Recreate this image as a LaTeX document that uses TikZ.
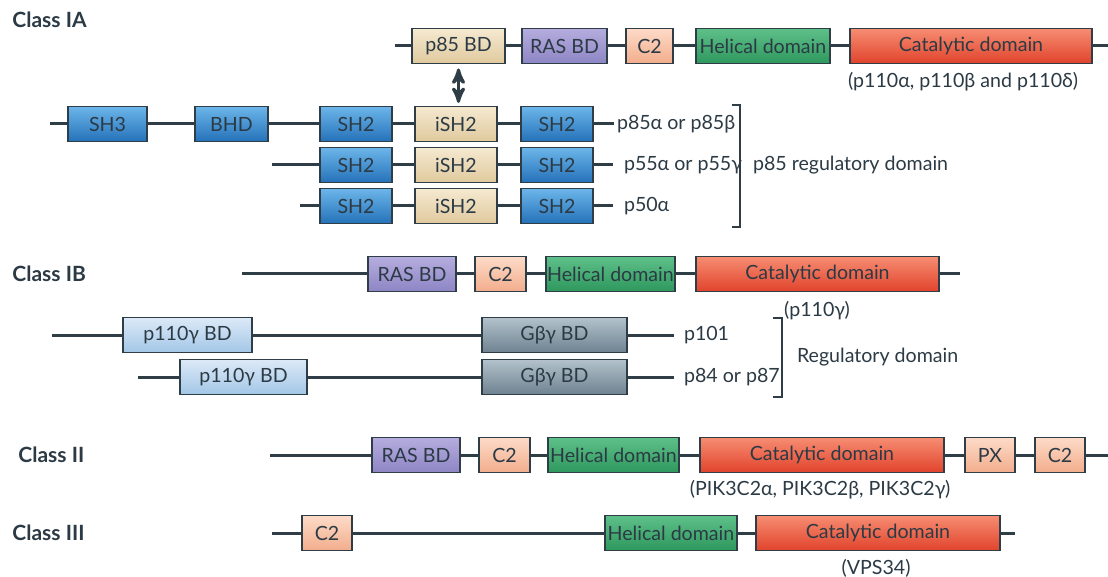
\documentclass[tikz,border=0pt]{standalone}
\usepackage{fontspec}
\setsansfont{Lato}
\usepackage{tikz}
\usetikzlibrary{positioning}
\usetikzlibrary{arrows}
\definecolor{linecol}{HTML}{2F3E46}
\definecolor{textcol}{HTML}{2B3A44}
\definecolor{shtop}{HTML}{6DB6EA}
\definecolor{shbot}{HTML}{2471B9}
\definecolor{tantop}{HTML}{F5E9D0}
\definecolor{tanbot}{HTML}{E0CA9E}
\definecolor{rastop}{HTML}{B5ADDE}
\definecolor{rasbot}{HTML}{8E85C5}
\definecolor{ctop}{HTML}{FDDBC8}
\definecolor{cbot}{HTML}{F2AD8C}
\definecolor{heltop}{HTML}{5EC089}
\definecolor{helbot}{HTML}{2E985D}
\definecolor{cattop}{HTML}{F68D72}
\definecolor{catbot}{HTML}{E1432C}
\definecolor{pbdtop}{HTML}{DCEAF7}
\definecolor{pbdbot}{HTML}{A3C6E7}
\definecolor{gbgtop}{HTML}{B3C2CC}
\definecolor{gbgbot}{HTML}{6E8290}

\begin{document}
\begin{tikzpicture}[x=0.5pt,y=-0.5pt,
        >=stealth',
        dom/.style={
        draw=linecol,
        line width=0.6pt,
        minimum height=17.5pt,
        inner sep=0pt,
        outer sep=0pt,
        text=textcol,
        font=\sffamily\fontsize{9.8}{10}\selectfont},
        sh/.style={dom, top color=shtop, bottom color=shbot},
        tan/.style={dom, top color=tantop, bottom color=tanbot},
        ras/.style={dom, top color=rastop, bottom color=rasbot},
        ctwo/.style={dom, top color=ctop, bottom color=cbot},
        hel/.style={dom, top color=heltop, bottom color=helbot},
        cat/.style={dom, top color=cattop, bottom color=catbot},
        pbd/.style={dom, top color=pbdtop, bottom color=pbdbot},
        gbg/.style={dom, top color=gbgtop, bottom color=gbgbot},
        bb/.style={draw=linecol, line width=1.5pt},
        brk/.style={draw=linecol, line width=0.8pt},
        lbl/.style={inner sep=1.5pt, outer sep=0pt, text=textcol, font=\sffamily\fontsize{9.8}{10}\selectfont},
        cls/.style={inner sep=0pt, text=textcol, font=\sffamily\bfseries\fontsize{10.5}{12}\selectfont}]

        \useasboundingbox (0,0) rectangle (1108,577);

        % Class IA: catalytic subunit
        \node[cls, anchor=west] (ia) at (12,20) {Class IA};
        \coordinate (a0) at (395,46);
        \node[tan, minimum width=46.5pt, anchor=west] (p85bd) at (412,46) {p85 BD};
        \node[ras, minimum width=42.5pt, right=8.5pt of p85bd] (ras1) {RAS BD};
        \node[ctwo, minimum width=23.5pt, right=9.5pt of ras1] (c2a) {C2};
        \node[hel, minimum width=67pt, right=11.5pt of c2a] (hel1) {Helical domain};
        \node[cat, minimum width=121pt, right=10pt of hel1] (cat1) {Catalytic domain};
        \coordinate (a1) at (1108,46);
        \draw[bb] (a0) -- (p85bd) -- (ras1) -- (c2a) -- (hel1) -- (cat1) -- (a1);
        \node[lbl] (sub1) at (963,82) {(p110α, p110β and p110δ)};

        % p85 regulatory subunits
        \coordinate (b0) at (50,124);
        \node[sh, minimum width=39.5pt, anchor=west] (sh3) at (68,124) {SH3};
        \node[sh, minimum width=36.5pt, right=24pt of sh3] (bhd) {BHD};
        \node[sh, minimum width=36pt, right=26pt of bhd] (sh2a) {SH2};
        \node[tan, minimum width=41pt, right=11.5pt of sh2a] (ish2a) {iSH2};
        \node[sh, minimum width=36pt, right=12pt of ish2a] (sh2b) {SH2};
        \node[lbl, anchor=west] (p85) at (614,124) {p85α or p85β};
        \draw[bb] (b0) -- (sh3) -- (bhd) -- (sh2a) -- (ish2a) -- (sh2b) -- (p85);

        \coordinate (e0) at (272,165);
        \node[sh, minimum width=36pt, anchor=west] (sh2c) at (320,165) {SH2};
        \node[tan, minimum width=41pt, right=11.5pt of sh2c] (ish2b) {iSH2};
        \node[sh, minimum width=36pt, right=12pt of ish2b] (sh2d) {SH2};
        \node[lbl, anchor=west] (p55) at (621,165) {p55α or p55γ};
        \draw[bb, shorten >=4pt] (e0) -- (sh2c) -- (ish2b) -- (sh2d) -- (p55);

        \coordinate (f0) at (300,206);
        \node[sh, minimum width=36pt, anchor=west] (sh2e) at (320,206) {SH2};
        \node[tan, minimum width=41pt, right=11.5pt of sh2e] (ish2c) {iSH2};
        \node[sh, minimum width=36pt, right=12pt of ish2c] (sh2f) {SH2};
        \node[lbl, anchor=west] (p50) at (621,206) {p50α};
        \draw[bb, shorten >=4pt] (f0) -- (sh2e) -- (ish2c) -- (sh2f) -- (p50);

        \draw[bb, <->, line width=1.6pt, shorten <=2.5pt, shorten >=1.8pt] (p85bd.south) -- (p85bd.south |- ish2a.north);
        \draw[brk] (732,105) -- (740,105) -- (740,227) -- (732,227);
        \node[lbl, anchor=west] (p85reg) at (750,165) {p85 regulatory domain};

        % Class IB
        \node[cls, anchor=west] (ib) at (12,274) {Class IB};
        \coordinate (c0) at (242,274);
        \node[ras, minimum width=44pt, anchor=west] (ras2) at (368,274) {RAS BD};
        \node[ctwo, minimum width=25.5pt, right=9.5pt of ras2] (c2b) {C2};
        \node[hel, minimum width=64.5pt, right=10pt of c2b] (hel2) {Helical domain};
        \node[cat, minimum width=121.5pt, right=10.5pt of hel2] (cat2) {Catalytic domain};
        \coordinate (c1) at (960,274);
        \draw[bb] (c0) -- (ras2) -- (c2b) -- (hel2) -- (cat2) -- (c1);
        \node[lbl] (sub2) at (817,311) {(p110γ)};

        \coordinate (g0) at (52,335);
        \node[pbd, minimum width=64.5pt, anchor=west] (pbd1) at (123,335) {p110γ BD};
        \node[gbg, minimum width=72.5pt, anchor=west] (gbg1) at (482,335) {Gβγ BD};
        \node[lbl, anchor=west] (p101) at (681,335) {p101};
        \draw[bb, shorten >=3.5pt] (g0) -- (pbd1) -- (gbg1) -- (p101);

        \coordinate (h0) at (138,377);
        \node[pbd, minimum width=63.5pt, anchor=west] (pbd2) at (180,377) {p110γ BD};
        \node[gbg, minimum width=72.5pt, anchor=west] (gbg2) at (482,377) {Gβγ BD};
        \node[lbl, anchor=west] (p84) at (681,377) {p84 or p87};
        \draw[bb, shorten >=3.5pt] (h0) -- (pbd2) -- (gbg2) -- (p84);

        \draw[brk] (773,318) -- (782,318) -- (782,397) -- (773,397);
        \node[lbl, anchor=west] (regdom) at (794,357) {Regulatory domain};

        % Class II
        \node[cls, anchor=west] (cii) at (18,455) {Class II};
        \coordinate (k0) at (270,455);
        \node[ras, minimum width=44pt, anchor=west] (ras3) at (372,455) {RAS BD};
        \node[ctwo, minimum width=25.5pt, right=9.5pt of ras3] (c2c) {C2};
        \node[hel, minimum width=65.5pt, right=9pt of c2c] (hel3) {Helical domain};
        \node[cat, minimum width=122pt, right=10.5pt of hel3] (cat3) {Catalytic domain};
        \node[ctwo, minimum width=25pt, right=10.5pt of cat3] (px) {PX};
        \node[ctwo, minimum width=25pt, right=10pt of px] (c2d) {C2};
        \coordinate (k1) at (1108,455);
        \draw[bb] (k0) -- (ras3) -- (c2c) -- (hel3) -- (cat3) -- (px) -- (c2d) -- (k1);
        \node[lbl] (sub3) at (820,490) {(PIK3C2α, PIK3C2β, PIK3C2γ)};

        % Class III
        \node[cls, anchor=west] (ciii) at (12,533) {Class III};
        \coordinate (m0) at (272,533);
        \node[ctwo, minimum width=25pt, anchor=west] (c2e) at (302,533) {C2};
        \node[hel, minimum width=66pt, anchor=west] (hel4) at (605,533) {Helical domain};
        \node[cat, minimum width=122pt, right=9.5pt of hel4] (cat4) {Catalytic domain};
        \coordinate (m1) at (1015,533);
        \draw[bb] (m0) -- (c2e) -- (hel4) -- (cat4) -- (m1);
        \node[lbl] (sub4) at (876,568) {(VPS34)};
\end{tikzpicture}
\end{document}
